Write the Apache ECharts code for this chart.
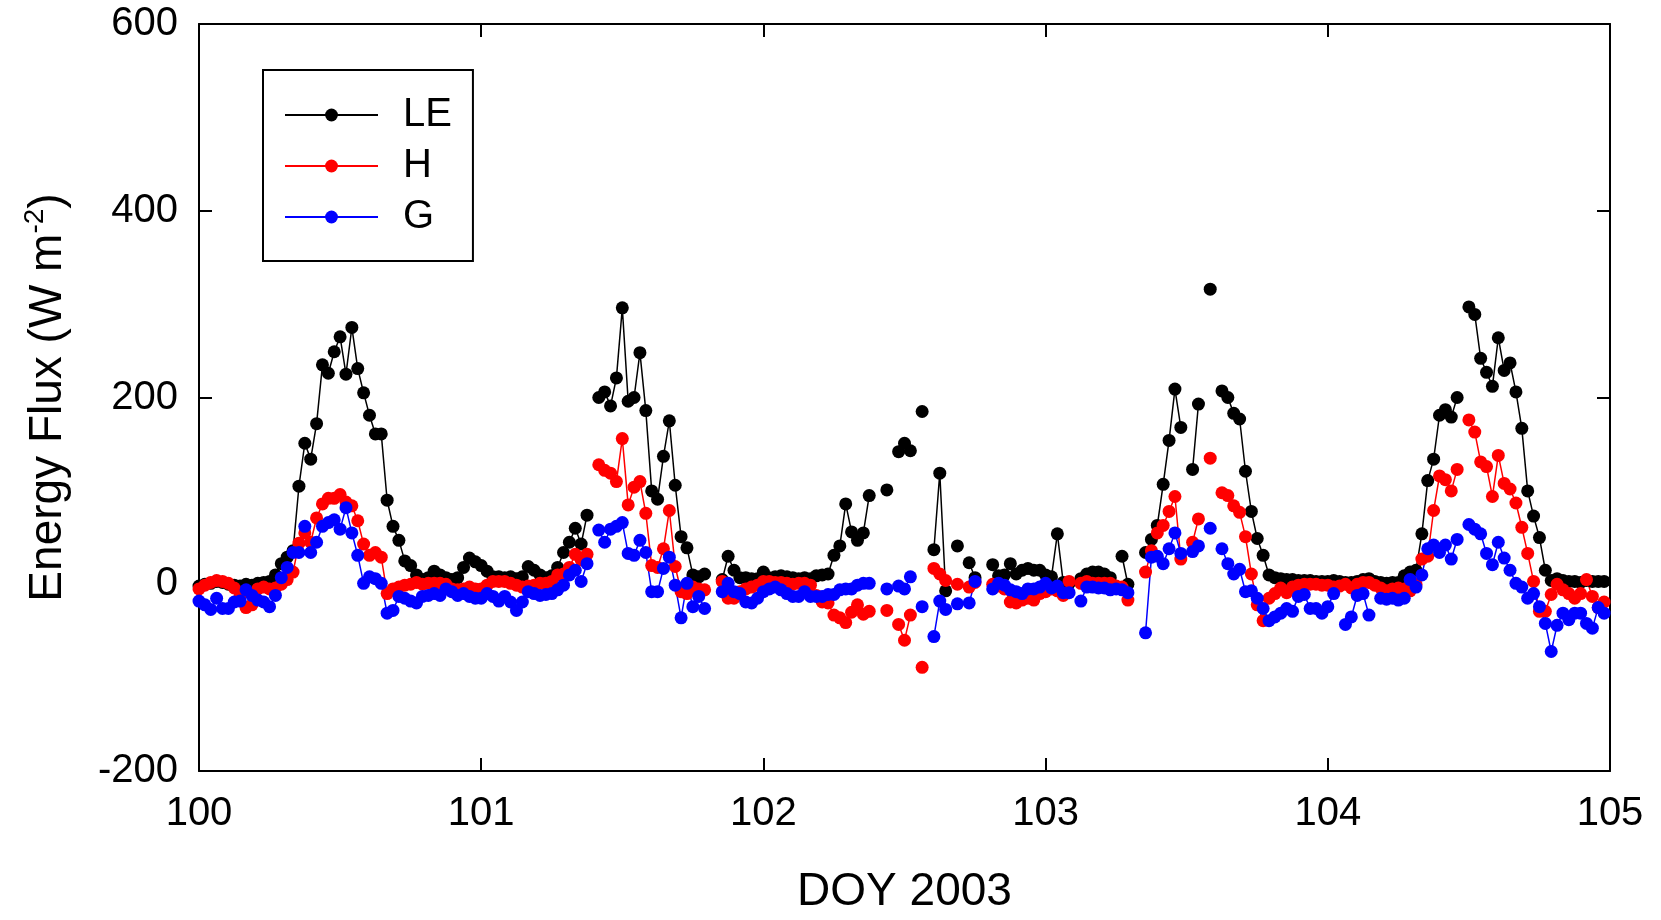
<!DOCTYPE html>
<html><head><meta charset="utf-8">
<script src="https://cdn.jsdelivr.net/npm/echarts/dist/echarts.min.js"></script>
<style>html,body{margin:0;padding:0;background:#fff}#c{width:1661px;height:920px}</style>
</head><body><div id="c"></div>
<script>
// Half-hourly samples, DOY 100.0 .. 104.98 (48 per day); null = missing
const startDOY = 100;
const samplesPerDay = 48;
const xTicks = [100, 101, 102, 103, 104, 105];
const yTicks = [-200, 0, 200, 400, 600];

const le100 = [-2,0,1,3,2,0,-1,-2,0,-1,1,2,3,10,22,29,36,105,151,134,172,235,226,249,265,225,275,231,205,181,161,161,90,62,47,25,20,10,5,7,14,10,7,5,7,18,28,24];
const le101 = [20,14,8,8,7,8,6,8,19,15,10,7,9,18,34,45,60,43,74,null,200,206,191,221,296,196,200,248,186,100,91,137,175,106,51,39,10,8,11,null,null,5,30,15,7,7,6,6];
const le102 = [13,7,8,9,8,7,6,7,6,9,10,11,31,41,86,56,47,55,95,null,null,101,null,142,151,143,null,185,null,37,119,-7,null,41,null,23,7,null,null,21,9,10,22,11,15,17,15,15];
const le103 = [10,8,54,2,1,null,6,11,13,13,11,7,null,30,0,null,null,34,48,63,107,154,209,168,null,123,193,null,316,null,207,200,183,177,121,78,49,31,10,7,6,5,5,4,4,4,3,3];
const le104 = [3,4,3,2,2,3,5,6,3,2,1,2,2,9,13,15,54,111,134,181,187,179,200,null,297,289,242,227,212,264,229,237,206,167,100,73,50,15,4,6,4,3,3,2,4,3,3,3];

const h100 = [-5,-1,2,4,3,1,-4,-12,-25,-22,-5,-3,-5,-4,0,5,13,44,55,45,71,86,92,92,96,88,84,68,43,31,34,29,-10,-5,-3,-1,0,2,0,1,1,1,0,-5,-6,-5,-3,-5];
const h101 = [-5,-1,3,3,3,1,-1,-3,-2,-1,1,1,3,10,11,18,32,26,32,null,128,122,119,110,156,85,104,110,76,20,18,38,79,19,-8,-10,-3,-5,-6,null,null,3,-15,-15,-8,-5,-3,-1];
const h102 = [3,3,2,2,1,0,1,1,-1,-12,-19,-20,-33,-36,-41,-30,-22,-32,-29,null,null,-28,null,-43,-60,-33,null,-89,null,17,11,4,null,0,null,-3,2,null,null,0,-2,-5,-19,-20,-17,-15,-17,-10];
const h103 = [-8,-5,-7,-12,3,null,1,3,1,1,1,1,-2,-3,-17,null,null,13,36,55,63,78,94,27,null,45,70,null,135,null,98,95,84,77,51,11,-22,-39,-15,-10,-4,-9,-3,-1,0,0,0,-1];
const h104 = [-1,-3,-2,0,-4,0,2,2,-1,-4,-7,-5,-4,-5,-7,0,27,30,79,116,112,100,123,null,176,163,131,126,94,138,108,102,87,61,33,3,-29,-29,-11,0,-6,-10,-15,-10,5,-13,-25,-19];

const g100 = [-18,-22,-27,-15,-26,-26,-19,-18,-6,-12,-17,-19,-24,-12,7,18,34,34,62,34,45,62,66,69,59,82,55,31,1,8,6,1,-31,-28,-13,-15,-18,-20,-13,-12,-10,-12,-5,-8,-12,-10,-13,-15];
const g101 = [-15,-10,-13,-18,-13,-19,-28,-19,-8,-10,-12,-11,-10,-6,-1,10,15,3,22,null,58,45,59,62,66,33,31,47,34,-8,-8,17,29,-1,-36,1,-24,-13,-26,null,null,-8,1,-8,-10,-19,-20,-15];
const g102 = [-8,-5,-3,-6,-10,-13,-13,-8,-13,-13,-13,-11,-11,-6,-5,-5,-1,1,1,null,null,-5,null,-2,-5,8,null,-24,null,-56,-18,-27,null,-21,null,-20,3,null,null,-5,1,-1,-6,-8,-10,-5,-5,-3];
const g103 = [1,-4,-2,-9,-9,null,-18,-3,-3,-4,-4,-6,-5,-6,-9,null,null,-52,29,30,22,38,55,33,null,35,41,null,60,null,38,22,11,16,-8,-7,-15,-26,-39,-35,-31,-26,-29,-13,-11,-26,-26,-31];
const g104 = [-24,-10,null,-43,-35,-12,-10,-33,null,-15,-16,-15,-17,-15,5,-3,10,38,42,34,42,27,48,null,64,59,54,33,21,45,28,15,1,-3,-15,-10,-24,-42,-72,-44,-31,-38,-31,-31,-42,-47,-25,-31];

const LE = [].concat(le100, le101, le102, le103, le104);
const H  = [].concat(h100, h101, h102, h103, h104);
const G  = [].concat(g100, g101, g102, g103, g104);

function toPairs(arr) {
  return arr.map((v, i) => [startDOY + i / samplesPerDay, v]);
}

const FONT = '"Liberation Sans", Arial, Helvetica, sans-serif';
const black = '#000000';

function xAxisDef(pos, labels) {
  return {
    type: 'value', position: pos, min: xTicks[0], max: xTicks[xTicks.length - 1], interval: 1,
    axisLine: { show: true, onZero: false, lineStyle: { color: black, width: 2 } },
    axisTick: { show: true, inside: true, length: 13, lineStyle: { color: black, width: 2 } },
    axisLabel: { show: labels, color: black, fontSize: 40, fontFamily: FONT, margin: 23 },
    splitLine: { show: false }
  };
}
function yAxisDef(pos, labels) {
  return {
    type: 'value', position: pos, min: yTicks[0], max: yTicks[yTicks.length - 1], interval: 200,
    axisLine: { show: true, onZero: false, lineStyle: { color: black, width: 2 } },
    axisTick: { show: true, inside: true, length: 13, lineStyle: { color: black, width: 2 } },
    axisLabel: { show: labels, color: black, fontSize: 40, fontFamily: FONT, margin: 21 },
    splitLine: { show: false }
  };
}

const xb = xAxisDef('bottom', true);
xb.name = 'DOY 2003';
xb.nameLocation = 'middle';
xb.nameGap = 98;
xb.nameTextStyle = { fontSize: 46, color: black, fontFamily: FONT };
const xt = xAxisDef('top', false);

const yl = yAxisDef('left', true);
yl.name = '{t|Energy Flux (W m}{s|-2}{t|)}';
yl.nameLocation = 'middle';
yl.nameGap = 128;
yl.nameTextStyle = {
  color: black, fontFamily: FONT, fontSize: 46,
  rich: {
    t: { fontSize: 46, fontFamily: FONT, color: black, verticalAlign: 'bottom', lineHeight: 50 },
    s: { fontSize: 28, fontFamily: FONT, color: black, verticalAlign: 'top', lineHeight: 50 }
  }
};
const yr = yAxisDef('right', false);

function lineSeries(name, arr, color) {
  return {
    name: name, type: 'line', xAxisIndex: 0, yAxisIndex: 0,
    data: toPairs(arr),
    symbol: 'circle', symbolSize: 13, showAllSymbol: true,
    connectNulls: false,
    lineStyle: { color: color, width: 1.5 },
    itemStyle: { color: color },
    emphasis: { disabled: true }
  };
}

const chart = echarts.init(document.getElementById('c'), null, { renderer: 'canvas' });
chart.setOption({
  animation: false,
  backgroundColor: '#ffffff',
  grid: { left: 199, right: 51, top: 24, bottom: 141, containLabel: false },
  xAxis: [xb, xt],
  yAxis: [yl, yr],
  legend: {
    data: ['LE', 'H', 'G'],
    orient: 'vertical', left: 263, top: 70,
    itemWidth: 93, itemHeight: 16, itemGap: 11,
    padding: [25, 21, 24, 21],
    borderColor: black, borderWidth: 2, backgroundColor: 'rgba(0,0,0,0)',
    textStyle: { fontSize: 40, fontFamily: FONT, color: black, lineHeight: 40, padding: [0, 0, 0, 20] },
    selectedMode: false
  },
  series: [
    lineSeries('LE', LE, '#000000'),
    lineSeries('H', H, '#ff0000'),
    lineSeries('G', G, '#0000ff')
  ]
});
</script>
</body></html>
